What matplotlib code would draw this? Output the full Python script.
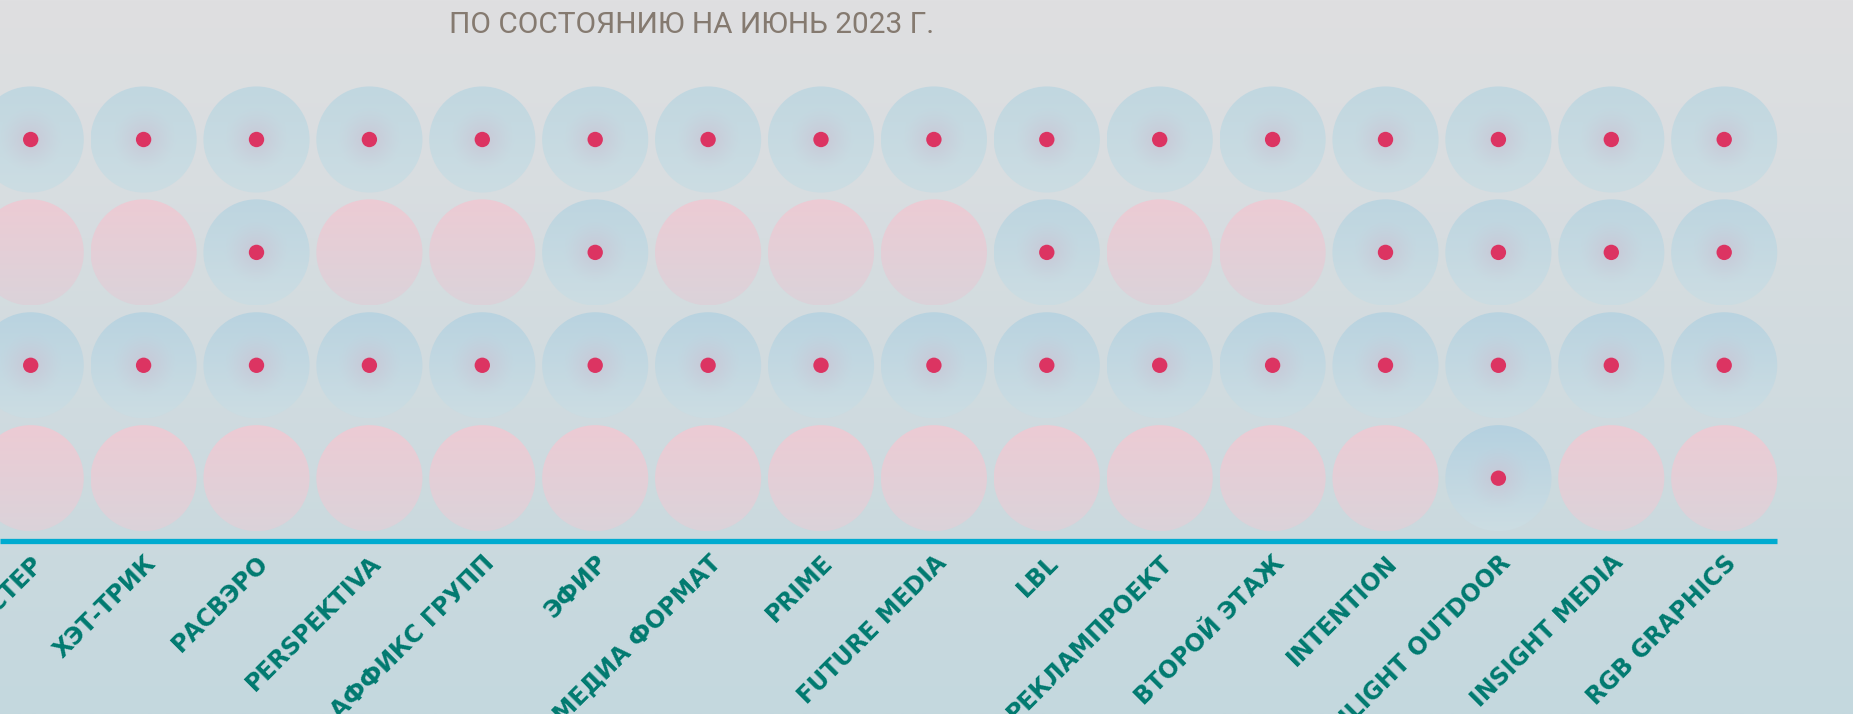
import numpy as np
import matplotlib
matplotlib.use("Agg")
import matplotlib.pyplot as plt
from matplotlib.patches import Circle

# ---------------- data ----------------
companies = ["ПОСТЕР", "ХЭТ-ТРИК", "РАСВЭРО", "PERSPEKTIVA", "АФФИКС ГРУПП", "ЭФИР",
             "МЕДИА ФОРМАТ", "PRIME", "FUTURE MEDIA", "LBL", "РЕКЛАМПРОЕКТ",
             "ВТОРОЙ ЭТАЖ", "INTENTION", "HIGHLIGHT OUTDOOR", "INSIGHT MEDIA", "RGB GRAPHICS"]
row_1 = [1, 1, 1, 1, 1, 1, 1, 1, 1, 1, 1, 1, 1, 1, 1, 1]
row_2 = [0, 0, 1, 0, 0, 1, 0, 0, 0, 1, 0, 0, 1, 1, 1, 1]
row_3 = [1, 1, 1, 1, 1, 1, 1, 1, 1, 1, 1, 1, 1, 1, 1, 1]
row_4 = [0, 0, 0, 0, 0, 0, 0, 0, 0, 0, 0, 0, 0, 1, 0, 0]
title = "ПО СОСТОЯНИЮ НА ИЮНЬ 2023 Г."

rows = [row_1, row_2, row_3, row_4]

# ---------------- figure ----------------
W, H = 1853, 714
fig = plt.figure(figsize=(W / 100, H / 100), dpi=100)
ax = fig.add_axes([0, 0, 1, 1])
ax.axis("off")

step = 112.9          # px per unit
x0_px, y0_px = 30.7, 139.5
xmin = -x0_px / step
xmax = (W - x0_px) / step
ymin = -y0_px / step
ymax = (H - y0_px) / step

def rgb(*c):
    return np.array(c, dtype=float) / 255.0

# background vertical gradient
t = np.linspace(0, 1, 300)[:, None, None]
top_c, bot_c = rgb(223, 223, 225), rgb(196, 216, 222)
bg = top_c * (1 - t) + bot_c * t
bg = np.repeat(bg, 2, axis=1)
ax.imshow(bg, extent=(xmin, xmax, ymax, ymin), aspect="auto",
          interpolation="bilinear", zorder=0)

R = 0.47
n = 121
g = np.linspace(-1, 1, n)
GX, GY = np.meshgrid(g, g)
RR = np.sqrt(GX ** 2 + GY ** 2)
TV = ((GY + 1) / 2)[:, :, None]

blue_top, blue_bot = rgb(193, 215, 224), rgb(204, 221, 227)
purple = rgb(202, 196, 212)
pink_top, pink_bot = rgb(237, 203, 212), rgb(219, 211, 218)

def blue_img(row):
    bt = blue_top - row * rgb(4, 2, 0)
    base = bt * (1 - TV) + blue_bot * TV
    w = np.clip(1 - RR / 0.62, 0, 1) ** 1.3 * 0.85
    w = w[:, :, None]
    return base * (1 - w) + purple * w

def pink_img():
    return pink_top * (1 - TV) + pink_bot * TV

for r, vals in enumerate(rows):
    for c, v in enumerate(vals):
        img = blue_img(r) if v else pink_img()
        im = ax.imshow(np.clip(img, 0, 1), extent=(c - R, c + R, r + R, r - R),
                       interpolation="bilinear", zorder=2, aspect="auto")
        im.set_clip_path(Circle((c, r), R, transform=ax.transData))
        if v:
            ax.add_patch(Circle((c, r), 0.068, color="#dc3462", zorder=3, lw=0))

# baseline
base_y = (541 - y0_px) / step
ax.plot([xmin, len(companies) - 1 + R], [base_y, base_y], color="#00abd0",
        lw=3.8, solid_capstyle="butt", zorder=3)

# labels
for c, name in enumerate(companies):
    ax.text(c + 0.0, base_y + 0.085, name, rotation=45, rotation_mode="anchor",
            ha="right", va="top", fontsize=17, fontweight="bold",
            color="#007a70", family=["DejaVu Sans"], zorder=4)

ax.set_xlim(xmin, xmax)
ax.set_ylim(ymax, ymin)

fig.text(449 / W, 1 - 25 / H, title, ha="left", va="center", fontsize=21.5,
         color="#857a70", family=["Roboto", "DejaVu Sans"], fontweight="normal")

fig.savefig("out.png", dpi=100)
